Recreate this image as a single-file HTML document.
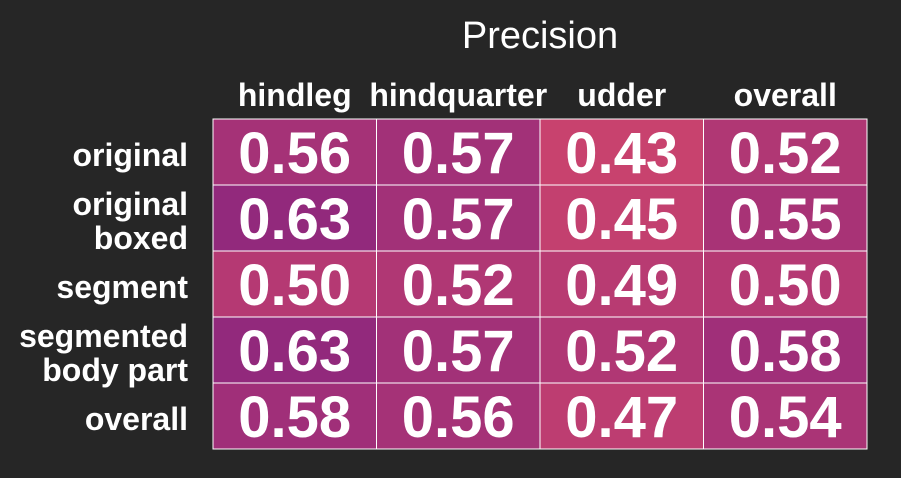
<!DOCTYPE html>
<html><head><meta charset="utf-8"><style>
body{margin:0;background:#262626;width:901px;height:473px;overflow:hidden;font-family:"Liberation Sans",sans-serif;}
</style></head><body>
<svg id="c" width="901" height="473"></svg>
<script>
const rows=["original","original\nboxed","segment","segmented\nbody part","overall"];
const cols=["hindleg","hindquarter","udder","overall"];
const values=[[0.56,0.57,0.43,0.52],[0.63,0.57,0.45,0.55],[0.50,0.52,0.49,0.50],[0.63,0.57,0.52,0.58],[0.58,0.56,0.47,0.54]];
const svg=document.getElementById('c');const NS='http://www.w3.org/2000/svg';
const x0=213,y0=119,cw=163.5,ch=66;
function mk(t,a,p){const e=document.createElementNS(NS,t);for(const k in a)e.setAttribute(k,a[k]);(p||svg).appendChild(e);return e;}
function col(v){let t=Math.max(0,Math.min(1,(v-0.43)/0.2));const a=[200,66,110],b=[146,41,124];return `rgb(${a.map((c,i)=>Math.round(c+(b[i]-c)*t)).join(',')})`;}
let title=mk('text',{x:540,y:48,'text-anchor':'middle','font-size':38,fill:'#fff'});title.textContent='Precision';


cols.forEach((c,j)=>{const t=mk('text',{x:x0+cw*(j+0.5),y:106,'text-anchor':'middle','font-size':32,'font-weight':'bold',fill:'#fff'});t.textContent=c;

});
rows.forEach((r,i)=>{const lines=r.split('\n');const cy=y0+ch*(i+0.5);lines.forEach((l,k)=>{const t=mk('text',{x:188,y:cy+14+(k-(lines.length-1)/2)*34,'text-anchor':'end','font-size':32,'font-weight':'bold',fill:'#fff'});t.textContent=l;

});
values[i].forEach((v,j)=>{const rc=mk('rect',{x:x0+cw*j,y:y0+ch*i,width:cw,height:ch,fill:col(v),stroke:'#fff','stroke-width':1});


const t=mk('text',{x:x0+cw*(j+0.5),y:y0+ch*i+ch/2+21,'text-anchor':'middle','font-size':58,'font-weight':'bold',fill:'#fff'});t.textContent=v.toFixed(2);

});});
</script></body></html>
